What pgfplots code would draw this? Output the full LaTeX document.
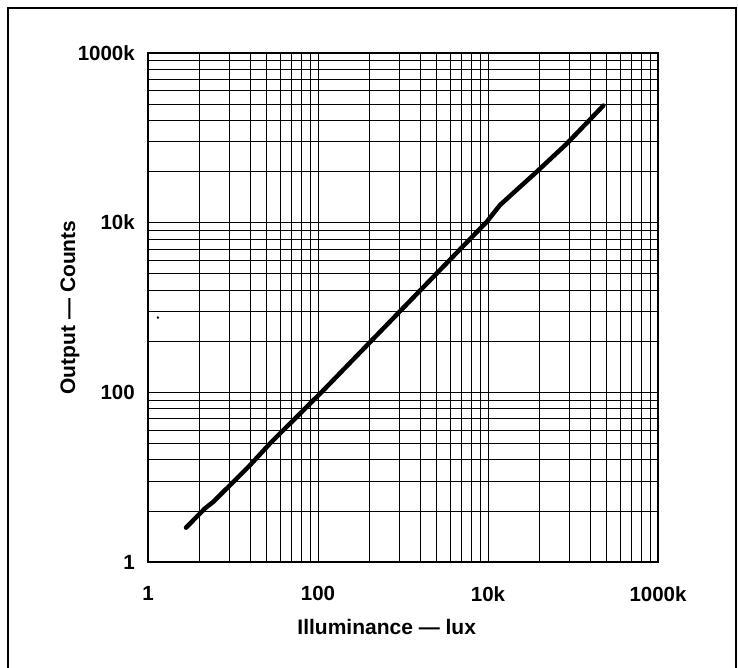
\documentclass[border=0pt]{standalone}
\usepackage{fontspec}
\setmainfont{Liberation Sans}
\usepackage{pgfplots}
\pgfplotsset{compat=1.18}
\begin{document}
\begin{tikzpicture}[x=1pt,y=1pt]
\useasboundingbox (0,0) rectangle (738,667);
% frame round the figure (bottom edge is cut off in the reference)
\draw[line width=2pt] (8,-2) -- (8,659) -- (736,659) -- (736,-2);
\begin{axis}[
  at={(148pt,105pt)}, anchor=south west,
  width=510pt, height=509pt, scale only axis,
  xmode=log, ymode=log,
  xmin=1, xmax=1e6, ymin=1, ymax=1e6,
  xtick={1,100,10000,1000000},
  xticklabels={1,100,10k,1000k},
  ytick={1,100,10000,1000000},
  yticklabels={1,100,10k,1000k},
  % 3-cycle paper: each cycle covers two decades, lines at k^2
  minor xtick={4,9,16,25,36,49,64,81,400,900,1600,2500,3600,4900,6400,8100,40000,90000,160000,250000,360000,490000,640000,810000},
  minor ytick={4,9,16,25,36,49,64,81,400,900,1600,2500,3600,4900,6400,8100,40000,90000,160000,250000,360000,490000,640000,810000},
  major tick length=0pt, minor tick length=0pt,
  grid=both,
  major grid style={black, line width=0.8pt},
  minor grid style={black, line width=0.8pt},
  axis line style={line width=2pt},
  tick label style={font=\fontsize{20.5}{24}\selectfont\bfseries, inner sep=0pt},
  xticklabel style={yshift=-24pt},
  yticklabel style={xshift=-13pt},
  label style={font=\fontsize{21}{25}\selectfont\bfseries},
  xlabel={Illuminance — lux},
  ylabel={Output — Counts},
  xlabel style={at={(axis description cs:0.468,-0.128)}, anchor=center},
  ylabel style={at={(axis description cs:-0.153,0.5)}, anchor=center},
]
\addplot[black, line width=4.5pt, line cap=round, line join=round] coordinates {
  (2.80,2.54)
  (4.69,4.29)
  (5.86,5.12)
  (9.23,8.05)
  (15.8,13.8)
  (27.2,24.9)
  (88.1,80.5)
  (106,96.6)
  (9660,10230)
  (13840,16140)
  (37400,39800)
  (84300,85100)
  (227500,239900)
};
% stray speck in the reference
\addplot[black, only marks, mark=*, mark size=1pt] coordinates {(1.31,762)};
\end{axis}
\end{tikzpicture}
\end{document}
